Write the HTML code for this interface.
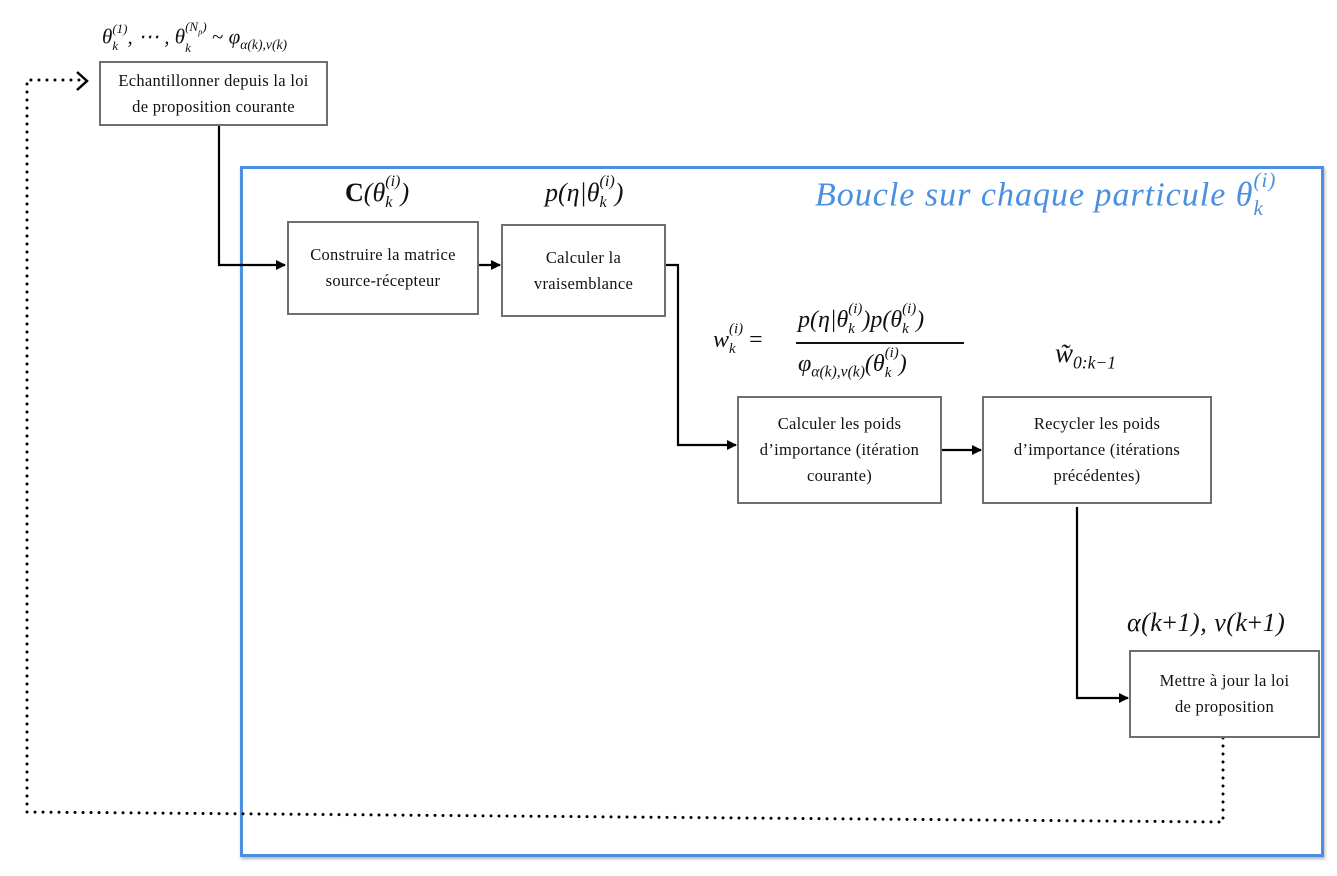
<!DOCTYPE html>
<html><head><meta charset="utf-8"><style>
body{margin:0;width:1337px;height:876px;background:#fff;position:relative;overflow:hidden;font-family:"Liberation Serif",serif;}
.b{position:absolute;border:2.5px solid #6f6f72;box-sizing:border-box;display:flex;align-items:center;justify-content:center;text-align:center;font-size:16.5px;letter-spacing:0.3px;line-height:26px;color:#111;background:#fff}
.m{position:absolute;font-family:"Liberation Serif",serif;font-style:italic;color:#111;white-space:nowrap}
.m sub{font-size:65%}
.u{font-style:normal}
.ss{display:inline-flex;flex-direction:column;vertical-align:middle;font-size:62%;line-height:1;margin-top:-0.3em}
.ss span:first-child{margin-bottom:0.35em}
</style></head><body>
<div style="position:absolute;left:240px;top:166px;width:1084px;height:691px;border:3px solid #4a8fe0;box-sizing:border-box;box-shadow:1px 2px 3px rgba(0,0,0,.3)"></div>
<svg width="1337" height="876" style="position:absolute;left:0;top:0">
<defs><marker id="a" markerWidth="10" markerHeight="10" refX="9" refY="5" orient="auto" markerUnits="userSpaceOnUse"><path d="M0,0 L10,5 L0,10z" fill="#000"/></marker></defs>
<g fill="none" stroke="#000" stroke-width="2.2">
<path d="M219,125 V265 H285" marker-end="url(#a)"/>
<path d="M478,265 H500" marker-end="url(#a)"/>
<path d="M665,265 H678 V445 H736" marker-end="url(#a)"/>
<path d="M941,450 H981" marker-end="url(#a)"/>
<path d="M1077,507 V698 H1128" marker-end="url(#a)"/>
</g>
<g fill="none" stroke="#000" stroke-width="3" stroke-dasharray="0 8" stroke-linecap="round">
<path d="M1223,738 V822 L27,812 V80 H80"/>
</g>
<path d="M77,72 L87,81 L77,90" fill="none" stroke="#000" stroke-width="2.5"/>
</svg>
<div class="b" style="left:99px;top:61px;width:229px;height:65px">Echantillonner depuis la loi<br>de proposition courante</div>
<div class="b" style="left:287px;top:221px;width:192px;height:94px">Construire la matrice<br>source-récepteur</div>
<div class="b" style="left:501px;top:224px;width:165px;height:93px">Calculer la<br>vraisemblance</div>
<div class="b" style="left:737px;top:396px;width:205px;height:108px">Calculer les poids<br>d’importance (itération<br>courante)</div>
<div class="b" style="left:982px;top:396px;width:230px;height:108px">Recycler les poids<br>d’importance (itérations<br>précédentes)</div>
<div class="b" style="left:1129px;top:650px;width:191px;height:88px">Mettre à jour la loi<br>de proposition</div>
<div class="m" style="left:102px;top:24px;font-size:21px">θ<span class="ss"><span>(1)</span><span>k</span></span>, ⋯ , θ<span class="ss"><span>(N<sub>p</sub>)</span><span>k</span></span> <span class="u">~</span> φ<sub>α(k),ν(k)</sub></div>
<div class="m" style="left:345px;top:178px;font-size:26px"><b class="u">C</b>(θ<span class="ss"><span>(i)</span><span>k</span></span>)</div>
<div class="m" style="left:545px;top:178px;font-size:26px">p(η|θ<span class="ss"><span>(i)</span><span>k</span></span>)</div>
<div class="m" style="left:815px;top:176px;font-size:34px;letter-spacing:1px;color:#4a8fe0">Boucle sur chaque particule θ<span class="ss"><span>(i)</span><span>k</span></span></div>
<div class="m" style="left:713px;top:326px;font-size:24px">w<span class="ss"><span>(i)</span><span>k</span></span> <span class="u">=</span></div>
<div class="m" style="left:798px;top:306px;font-size:24px">p(η|θ<span class="ss"><span>(i)</span><span>k</span></span>)p(θ<span class="ss"><span>(i)</span><span>k</span></span>)</div>
<div style="position:absolute;left:796px;top:342px;width:168px;height:1.5px;background:#111"></div>
<div class="m" style="left:798px;top:350px;font-size:24px">φ<sub>α(k),ν(k)</sub>(θ<span class="ss"><span>(i)</span><span>k</span></span>)</div>
<div class="m" style="left:1055px;top:338px;font-size:27px">w̃<sub>0:k−1</sub></div>
<div class="m" style="left:1127px;top:608px;font-size:26px;letter-spacing:0.5px">α(k<span class="u">+</span>1), ν(k<span class="u">+</span>1)</div>
</body></html>
